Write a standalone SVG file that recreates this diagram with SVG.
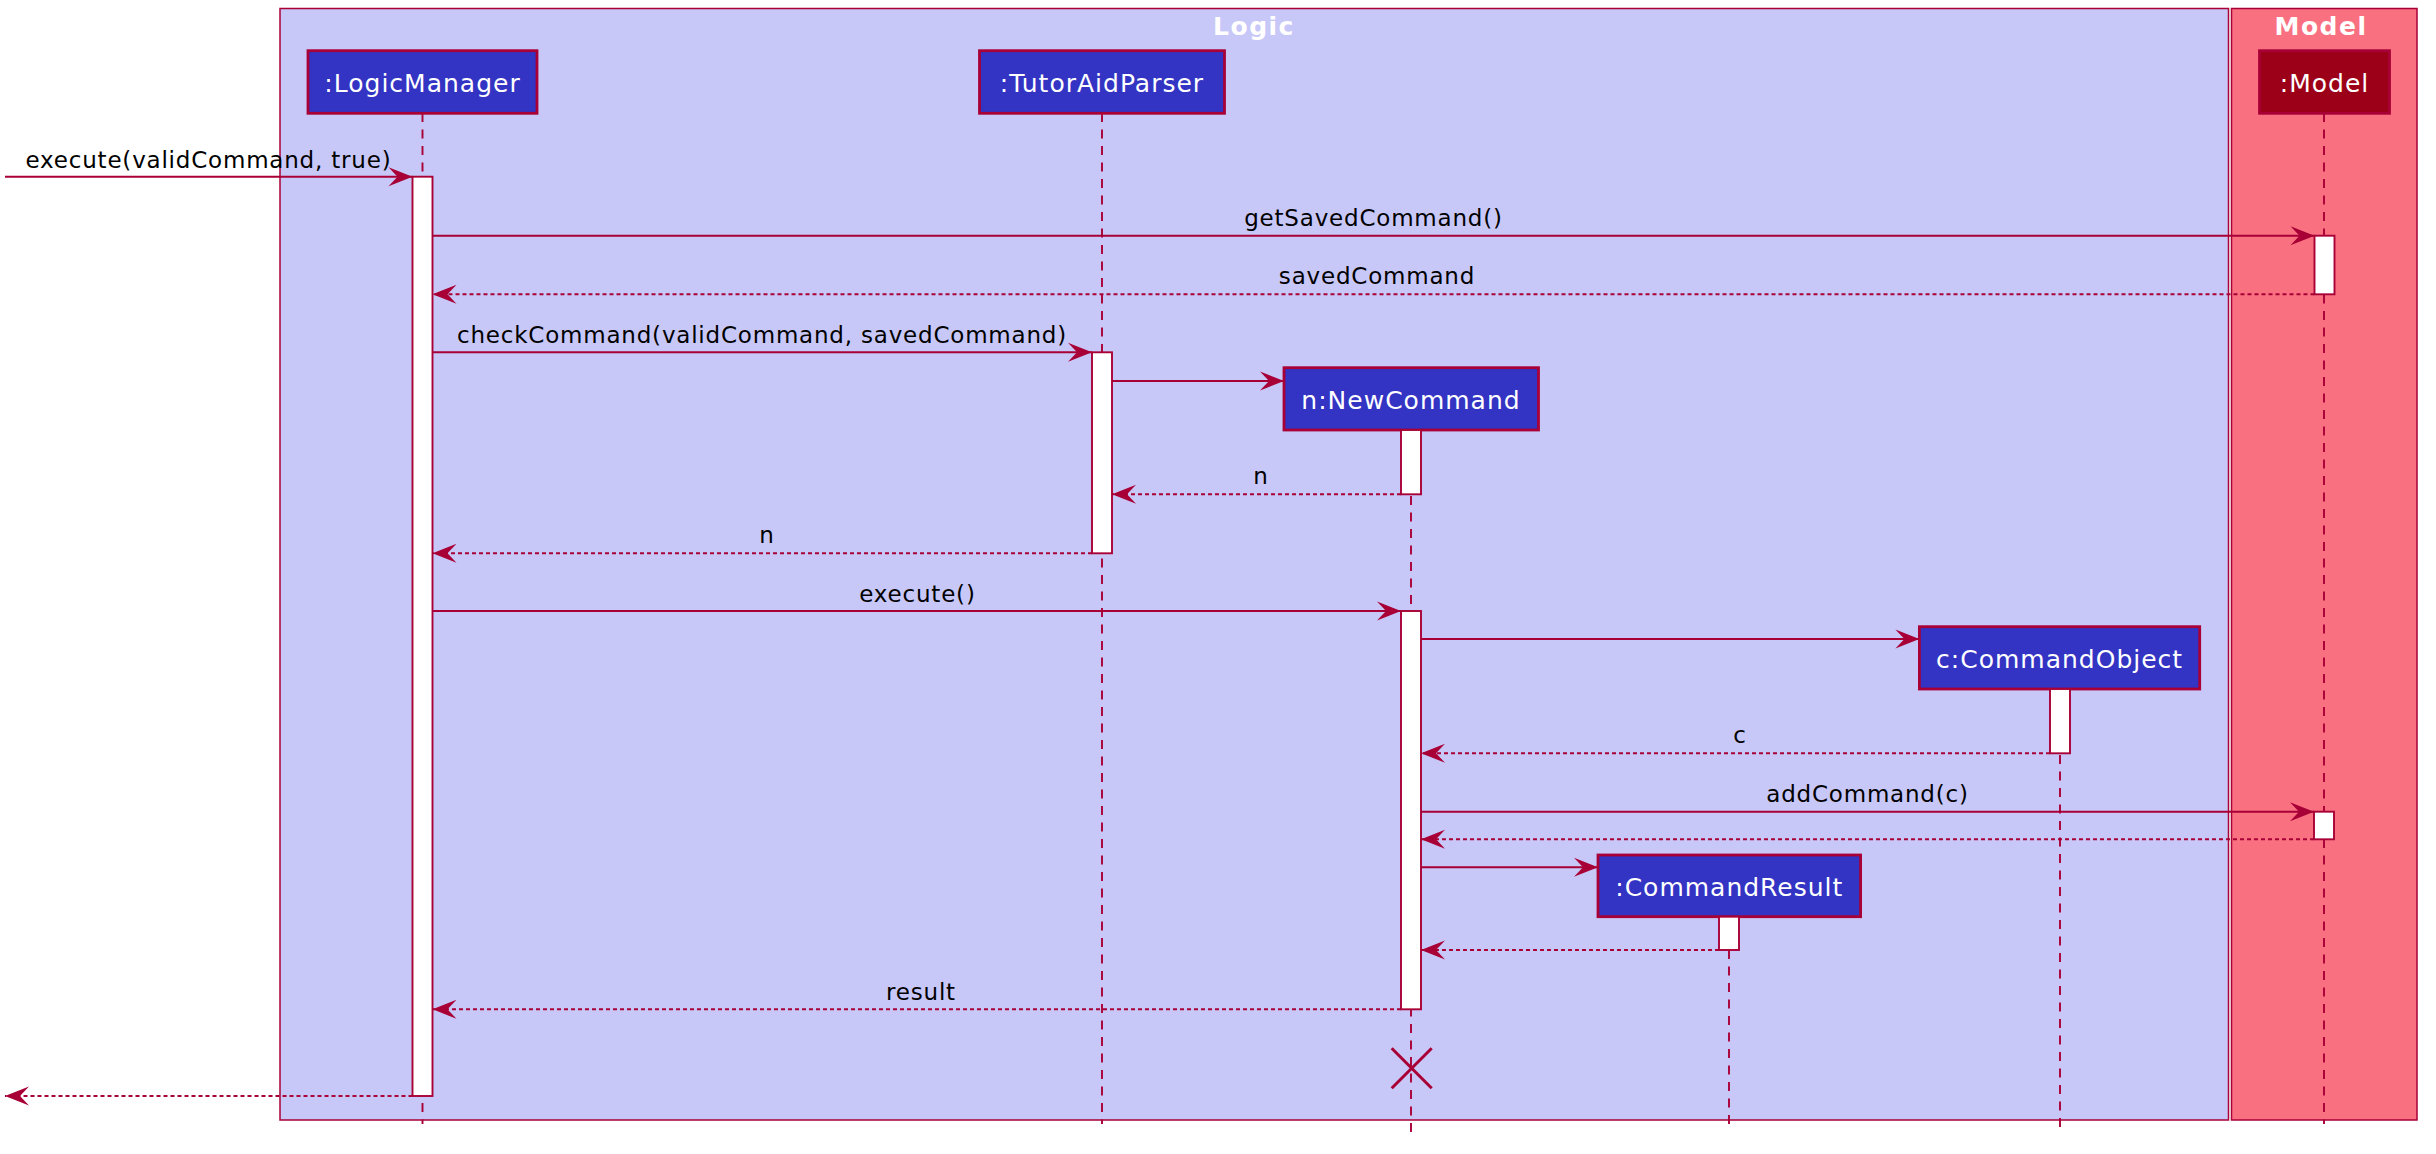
<svg xmlns="http://www.w3.org/2000/svg" width="2436" height="1154" viewBox="0 0 2436 1154">
<defs>
<style>
.box{stroke:#A80036;stroke-width:1.5}
.title{font-family:"DejaVu Sans",sans-serif;font-size:25px;font-weight:bold;fill:#FFFFFF;text-anchor:middle;letter-spacing:1.5px}
.part{fill:#3333C4;stroke:#A80036;stroke-width:2.8}
.partm{fill:#9C0018;stroke:#A80036;stroke-width:2.8}
.ptxt{font-family:"DejaVu Sans",sans-serif;font-size:25px;fill:#FFFFFF;text-anchor:middle;letter-spacing:1px}
.life{stroke:#A80036;stroke-width:1.9;stroke-dasharray:9,7.5;fill:none}
.act{fill:#FFFFFF;stroke:#A80036;stroke-width:1.9}
.msg{stroke:#A80036;stroke-width:1.9;fill:none;marker-end:url(#ah)}
.ret{stroke:#A80036;stroke-width:1.9;fill:none;stroke-dasharray:4,3;marker-end:url(#ah)}
.lbl{font-family:"DejaVu Sans",sans-serif;font-size:23px;fill:#000000;text-anchor:middle;letter-spacing:0.8px}
.x{stroke:#A80036;stroke-width:3;fill:none}
</style>
<marker id="ah" markerUnits="userSpaceOnUse" markerWidth="24" markerHeight="19" refX="24" refY="9.5" orient="auto" overflow="visible">
<path d="M0,0 L24,9.5 L0,19 L9,9.5 Z" fill="#A80036"/>
</marker>
</defs>
<rect width="2436" height="1154" fill="#FFFFFF"/>

<g id="box-logic">
<rect class="box" x="280" y="8.5" width="1948.5" height="1111.5" fill="#C8C8F8"/>
<text class="title" x="1254" y="35">Logic</text>
</g>
<g id="box-model">
<rect class="box" x="2231.5" y="8.5" width="185.5" height="1111.5" fill="#F97181"/>
<text class="title" x="2321" y="35">Model</text>
</g>

<g id="lifelines">
<line class="life" x1="422.5" y1="113" x2="422.5" y2="1124"/>
<line class="life" x1="1102" y1="113" x2="1102" y2="1124"/>
<line class="life" x1="2324" y1="113" x2="2324" y2="1124"/>
<line class="life" x1="1411" y1="430" x2="1411" y2="1132"/>
<line class="life" x1="2060" y1="689" x2="2060" y2="1132"/>
<line class="life" x1="1729" y1="917" x2="1729" y2="1127"/>
</g>

<g id="LogicManager">
<rect class="part" x="308" y="50.7" width="229" height="62.6"/>
<text class="ptxt" x="422.5" y="91.5">:LogicManager</text>
<rect class="act" x="412.5" y="176.7" width="20" height="919.3"/>
</g>
<g id="TutorAidParser">
<rect class="part" x="979.5" y="50.7" width="245" height="62.6"/>
<text class="ptxt" x="1102" y="91.5">:TutorAidParser</text>
<rect class="act" x="1092" y="352.3" width="20" height="201"/>
</g>
<g id="Model">
<rect class="partm" x="2259.5" y="50.7" width="130" height="62.6"/>
<text class="ptxt" x="2324.5" y="91.5">:Model</text>
<rect class="act" x="2314.5" y="235.7" width="20" height="58.6"/>
<rect class="act" x="2314" y="811.7" width="20" height="27.6"/>
</g>
<g id="NewCommand">
<rect class="part" x="1284" y="367.7" width="254.5" height="62.3"/>
<text class="ptxt" x="1411" y="409">n:NewCommand</text>
<rect class="act" x="1401" y="430" width="20" height="64.3"/>
<rect class="act" x="1401" y="611" width="20" height="398.3"/>
<line class="x" x1="1391.7" y1="1048.3" x2="1431.7" y2="1088.3"/>
<line class="x" x1="1431.7" y1="1048.3" x2="1391.7" y2="1088.3"/>
</g>
<g id="CommandObject">
<rect class="part" x="1919.4" y="626.7" width="280.3" height="62.3"/>
<text class="ptxt" x="2059.6" y="668">c:CommandObject</text>
<rect class="act" x="2050" y="689" width="20" height="64.3"/>
</g>
<g id="CommandResult">
<rect class="part" x="1598" y="855" width="262.6" height="61.7"/>
<text class="ptxt" x="1729.3" y="896">:CommandResult</text>
<rect class="act" x="1719" y="916.7" width="20" height="33.3"/>
</g>

<g id="connectors">
<line class="msg" x1="5" y1="176.7" x2="412.5" y2="176.7"/>
<text class="lbl" x="208.5" y="167.5">execute(validCommand, true)</text>
<line class="msg" x1="432.5" y1="235.7" x2="2314.5" y2="235.7"/>
<text class="lbl" x="1373.5" y="225.5">getSavedCommand()</text>
<line class="ret" x1="2314.5" y1="294.3" x2="432.5" y2="294.3"/>
<text class="lbl" x="1377" y="284">savedCommand</text>
<line class="msg" x1="432.5" y1="352.3" x2="1092" y2="352.3"/>
<text class="lbl" x="762" y="342.5">checkCommand(validCommand, savedCommand)</text>
<line class="msg" x1="1112" y1="381" x2="1284" y2="381"/>
<line class="ret" x1="1401" y1="494.3" x2="1112" y2="494.3"/>
<text class="lbl" x="1261" y="483.5">n</text>
<line class="ret" x1="1092" y1="553.3" x2="432.5" y2="553.3"/>
<text class="lbl" x="767" y="542.5">n</text>
<line class="msg" x1="432.5" y1="611" x2="1401" y2="611"/>
<text class="lbl" x="917.5" y="601.5">execute()</text>
<line class="msg" x1="1421" y1="639" x2="1919.4" y2="639"/>
<line class="ret" x1="2050" y1="753.3" x2="1421" y2="753.3"/>
<text class="lbl" x="1740" y="742.5">c</text>
<line class="msg" x1="1421" y1="811.7" x2="2314" y2="811.7"/>
<text class="lbl" x="1867.5" y="801.5">addCommand(c)</text>
<line class="ret" x1="2314" y1="839.3" x2="1421" y2="839.3"/>
<line class="msg" x1="1421" y1="867.3" x2="1598" y2="867.3"/>
<line class="ret" x1="1719" y1="950" x2="1421" y2="950"/>
<line class="ret" x1="1401" y1="1009.3" x2="432.5" y2="1009.3"/>
<text class="lbl" x="921" y="999.5">result</text>
<line class="ret" x1="412.5" y1="1096" x2="5" y2="1096"/>
</g>
</svg>
